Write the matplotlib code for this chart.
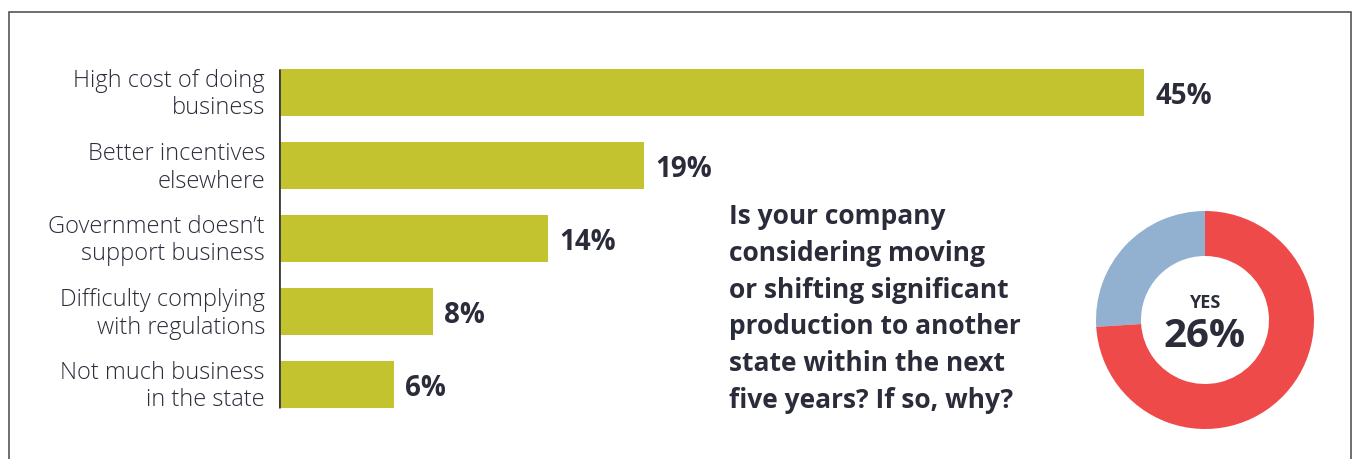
import matplotlib
matplotlib.use("Agg")
import matplotlib.pyplot as plt
from matplotlib.patches import Rectangle

# Survey data
categories = [
    "High cost of doing\nbusiness",
    "Better incentives\nelsewhere",
    "Government doesn\u2019t\nsupport business",
    "Difficulty complying\nwith regulations",
    "Not much business\nin the state",
]
shares = [45, 19, 14, 8, 6]
yes_share = 26
no_share = 100 - yes_share
question_lines = [
    "Is your company",
    "considering moving",
    "or shifting significant",
    "production to another",
    "state within the next",
    "five years? If so, why?",
]

W, H = 1353, 459
DPI = 100
BAR_COLOR = "#C3C32F"
TEXT_COLOR = "#2B2C3A"
RED = "#EF4A4A"
BLUE = "#92B1D1"
LABEL_FONT = "Open Sans"
BOLD_FONT = "Open Sans"

fig = plt.figure(figsize=(W / DPI, H / DPI), dpi=DPI)
fig.patch.set_facecolor("white")


def fx(px):
    return px / W


def fy(py):
    return 1 - py / H


# Outer frame
fig.add_artist(Rectangle((fx(8.5), fy(470)), fx(1351) - fx(8.5), fy(11.5) - fy(470),
                         transform=fig.transFigure, fill=False,
                         edgecolor="#555555", linewidth=1.2))

# Horizontal bar chart
ax_left, ax_right = 279, 1144
ax_top, ax_bottom = 56, 421
ax = fig.add_axes([fx(ax_left), fy(ax_bottom), fx(ax_right) - fx(ax_left),
                   fy(ax_top) - fy(ax_bottom)])
n = len(categories)
pos = list(range(n))
bar_h = 47 / 73
ax.barh(pos, shares, height=bar_h, color=BAR_COLOR, edgecolor="none")
ax.set_xlim(0, max(shares))
ax.set_ylim(n - 0.5, -0.5)
ax.axis("off")
ax.vlines(0, -bar_h / 2, n - 1 + bar_h / 2, color="#3A3A3A", linewidth=2.0)

px_per_unit = (ax_right - ax_left) / max(shares)
pitch = (ax_bottom - ax_top) / n
for i, (cat, val) in enumerate(zip(categories, shares)):
    cy = ax_top + pitch * (i + 0.5)
    lines = cat.split("\n")
    fig.text(fx(265), fy(cy - 5.5), lines[0], ha="right", va="baseline",
             fontsize=17, family=LABEL_FONT, weight="light", color=TEXT_COLOR)
    fig.text(fx(265), fy(cy + 22), lines[1], ha="right", va="baseline",
             fontsize=17, family=LABEL_FONT, weight="light", color=TEXT_COLOR)
    xend = ax_left + val * px_per_unit
    fig.text(fx(xend + 11), fy(cy + 11.5), f"{val}%", ha="left", va="baseline",
             fontsize=20, family=BOLD_FONT, weight="bold", color=TEXT_COLOR)

# Question text
for k, line in enumerate(question_lines):
    fig.text(fx(729), fy(224 + 36.8 * k), line, ha="left", va="baseline",
             fontsize=19, family=BOLD_FONT, weight="bold", color=TEXT_COLOR)

# Donut chart
cx, cyd, r = 1205, 320, 109
axd = fig.add_axes([fx(cx - r), fy(cyd + r), fx(2 * r), fy(0) - fy(2 * r)])
axd.pie([yes_share, no_share], colors=[BLUE, RED], startangle=90,
        counterclock=True, radius=1,
        wedgeprops=dict(width=45 / 109, edgecolor="none"))
axd.set_xlim(-1, 1)
axd.set_ylim(-1, 1)
axd.set_aspect("auto")
axd.axis("off")
fig.text(fx(cx), fy(308), "YES", ha="center", va="baseline",
         fontsize=13, family=BOLD_FONT, weight="bold", color=TEXT_COLOR)
fig.text(fx(cx), fy(347), f"{yes_share}%", ha="center", va="baseline",
         fontsize=29, family=BOLD_FONT, weight="bold", color=TEXT_COLOR)

fig.savefig("out.png", dpi=DPI, facecolor="white")
